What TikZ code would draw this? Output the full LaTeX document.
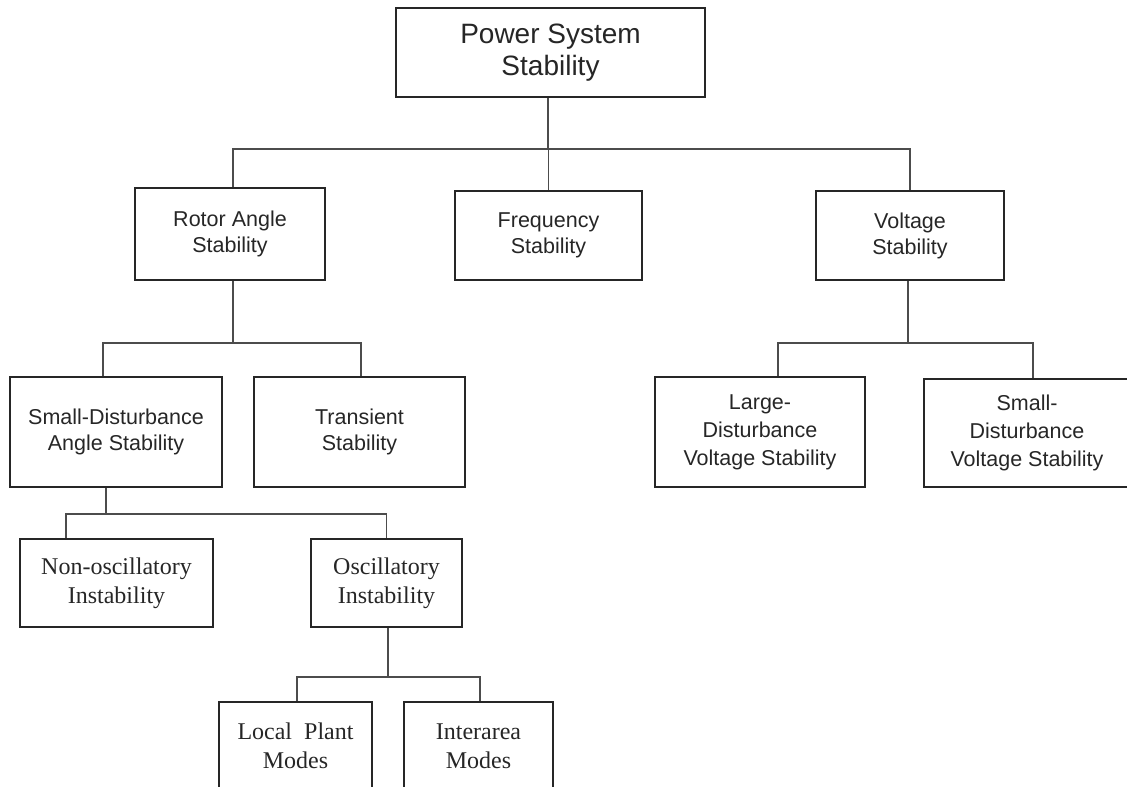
\documentclass[tikz,border=0pt]{standalone}
\usepackage{fontspec}
\setmainfont{Liberation Serif}
\newfontfamily\arialfont{Liberation Sans}
\usepackage{tikz}

\begin{document}
\begin{tikzpicture}[x=1pt, y=-1pt,
    box/.style={draw=black!85, line width=1.6pt, rectangle, inner sep=0pt, align=center, text=black!85},
    sbox/.style={box, font=\arialfont\fontsize{21.5}{26}\selectfont},
    tbox/.style={box, font=\fontsize{24}{29}\selectfont},
    link/.style={draw=black!70, line width=1.4pt}]
  \useasboundingbox (0,0) rectangle (1127,787);
  \clip (0,0) rectangle (1127,787);
  % root
  \node [box, minimum width=309pt, minimum height=89pt, font=\arialfont\fontsize{28}{32}\selectfont] (pss) at (550.5,52.5) {Power System\\Stability};
  % first level
  \node [sbox, minimum width=190pt, minimum height=92pt] (rotor) at (230,234) {Rotor Angle\\Stability};
  \node [sbox, minimum width=187pt, minimum height=89pt] (freq) at (548.5,235.5) {Frequency\\Stability};
  \node [sbox, minimum width=188pt, minimum height=89pt] (volt) at (910,235.5) {Voltage\\Stability};
  % second level
  \node [sbox, minimum width=212pt, minimum height=110pt] (sda) at (116,432) {Small-Disturbance\\Angle Stability};
  \node [sbox, minimum width=211pt, minimum height=110pt] (trans) at (359.5,432) {Transient\\Stability};
  \node [sbox, minimum width=210pt, minimum height=110pt, font=\arialfont\fontsize{21.5}{28}\selectfont] (ldv) at (760,432) {Large-\\Disturbance\\Voltage Stability};
  \node [sbox, minimum width=206pt, minimum height=108pt, font=\arialfont\fontsize{21.5}{28}\selectfont] (sdv) at (1027,433) {Small-\\Disturbance\\Voltage Stability};
  % third level
  \node [tbox, minimum width=193pt, minimum height=88pt] (nonosc) at (116.5,583) {Non-oscillatory\\Instability};
  \node [tbox, minimum width=151pt, minimum height=88pt] (osc) at (386.5,583) {Oscillatory\\Instability};
  % fourth level
  \node [tbox, minimum width=153pt, minimum height=88pt] (local) at (295.5,746) {Local~~Plant\\Modes};
  \node [tbox, minimum width=149pt, minimum height=88pt] (inter) at (478.5,746) {Interarea\\Modes};

  \draw [link] ([xshift=-2.5pt]pss.south) -- ++(0,51) coordinate (b0);
  \draw [link] (b0) -| ([xshift=3pt]rotor.north);
  \draw [link] (b0) -| (freq.north);
  \draw [link] (b0) -| (volt.north);

  \draw [link] ([xshift=3pt]rotor.south) -- ++(0,62) coordinate (b1);
  \draw [link] (b1) -| ([xshift=-13pt]sda.north);
  \draw [link] (b1) -| ([xshift=1.5pt]trans.north);

  \draw [link] ([xshift=-2pt]volt.south) -- ++(0,62) coordinate (b2);
  \draw [link] (b2) -| ([xshift=18pt]ldv.north);
  \draw [link] (b2) -| ([xshift=6pt]sdv.north);

  \draw [link] ([xshift=-10pt]sda.south) -- ++(0,26) coordinate (b3);
  \draw [link] (b3) -| ([xshift=-50.5pt]nonosc.north);
  \draw [link] (b3) -| (osc.north);

  \draw [link] ([xshift=1.5pt]osc.south) -- ++(0,49) coordinate (b4);
  \draw [link] (b4) -| ([xshift=1.5pt]local.north);
  \draw [link] (b4) -| ([xshift=1.5pt]inter.north);
\end{tikzpicture}
\end{document}
